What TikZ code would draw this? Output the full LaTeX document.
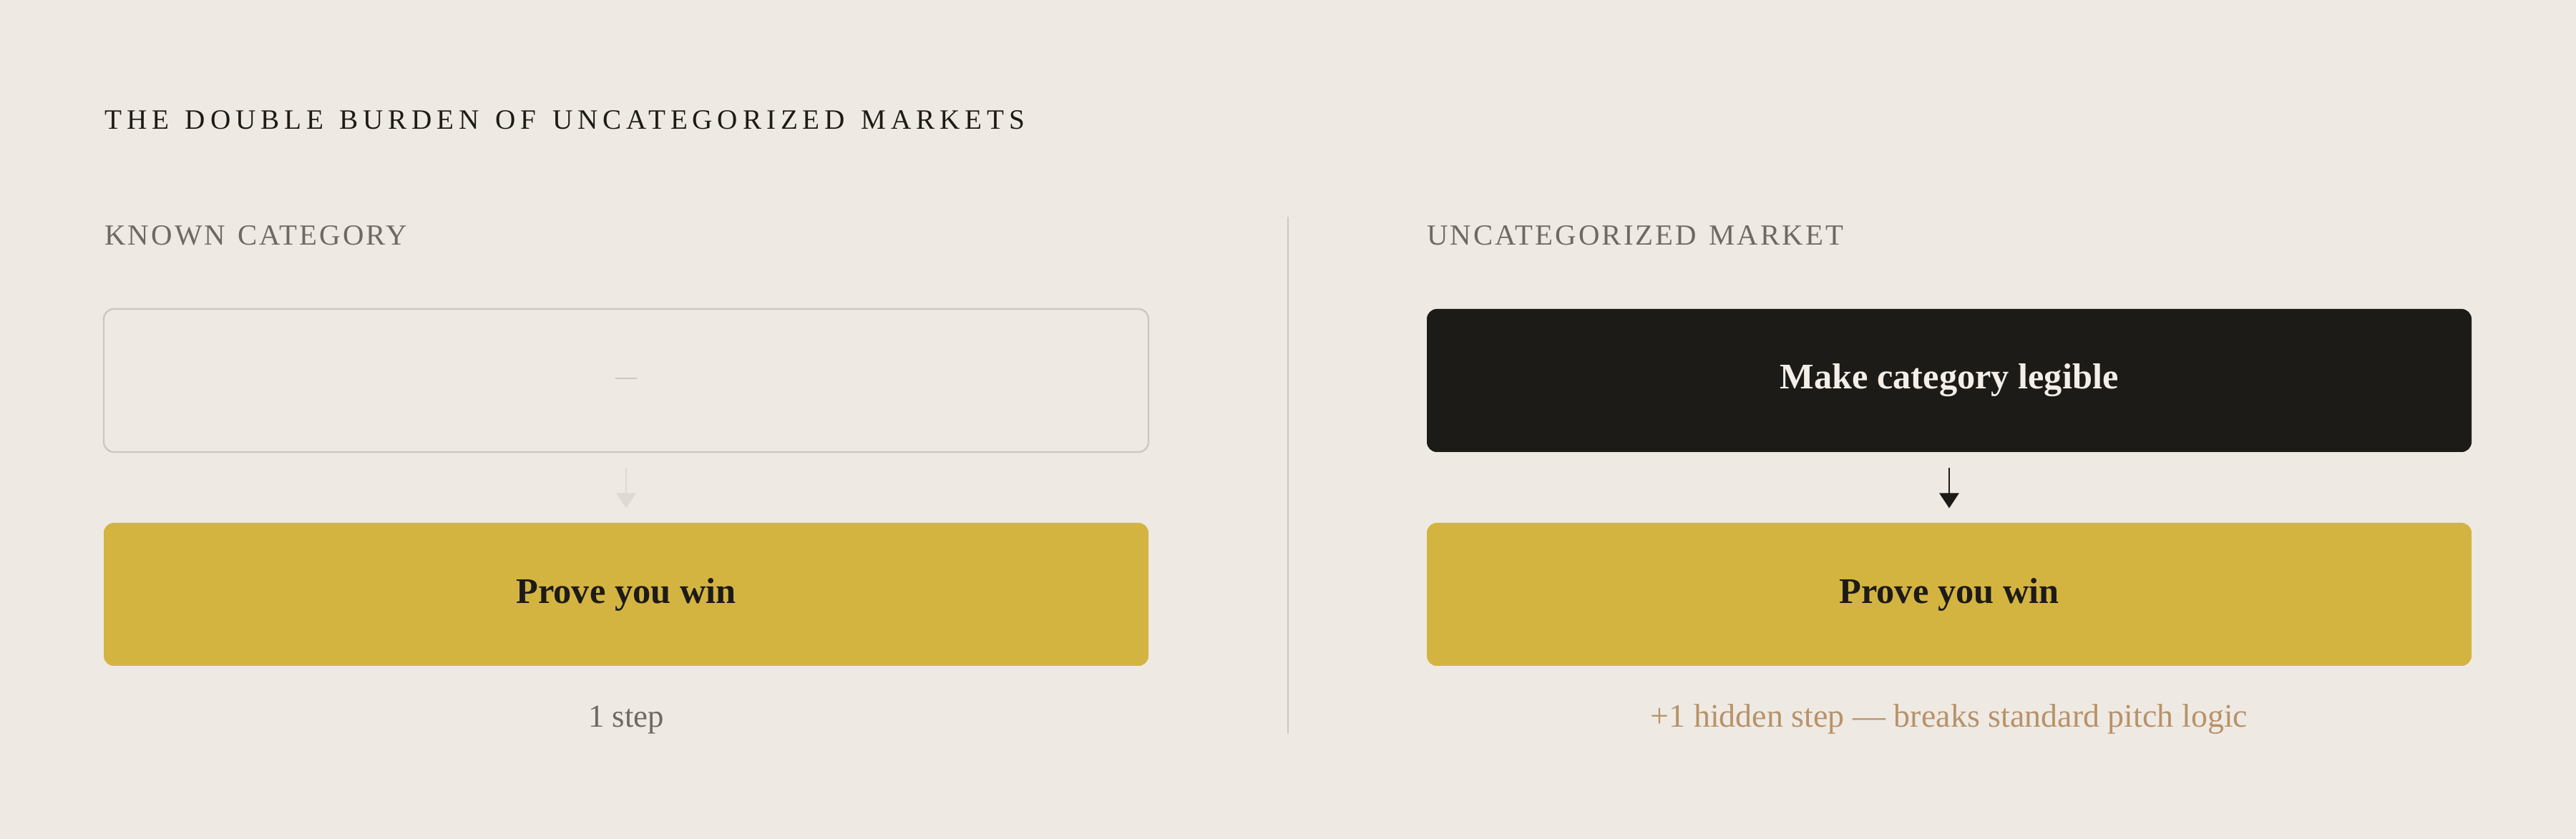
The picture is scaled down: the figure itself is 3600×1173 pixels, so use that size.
\documentclass[tikz,border=0pt]{standalone}
\usepackage{fontspec}
\setmainfont{Liberation Serif}
\newfontfamily\titlefont[LetterSpace=17.5,WordSpace=1.35]{Liberation Serif}
\newfontfamily\labelfont[LetterSpace=7.5,WordSpace=1.3]{Liberation Serif}
\usetikzlibrary{arrows.meta}

\definecolor{paper}{HTML}{EEEAE3}
\definecolor{ink}{HTML}{1D1B17}
\definecolor{muted}{HTML}{6E6A62}
\definecolor{rule}{HTML}{CCC7BF}
\definecolor{faint}{HTML}{DEDAD2}
\definecolor{gold}{HTML}{D4B441}
\definecolor{tan}{HTML}{B8926A}
\definecolor{cream}{HTML}{F3EFE8}

\tikzset{every picture/.style={line width=0.75pt}}
\tikzset{
	stepbox/.style={rounded corners=3.5pt, minimum width=365pt, minimum height=50pt, inner sep=0pt, font=\fontsize{12.6}{15}\selectfont\bfseries},
	emptybox/.style={stepbox, draw=rule, line width=0.6pt, fill=paper},
	darkbox/.style={stepbox, fill=ink, text=cream},
	goldbox/.style={stepbox, fill=gold, text=ink},
	collabel/.style={anchor=base west, inner sep=0pt, text=muted, font=\labelfont\fontsize{10.2}{12}\selectfont},
	note/.style={anchor=base, inner sep=0pt, font=\fontsize{11.2}{13}\selectfont},
	flow/.style={-{Triangle[length=5.25pt,width=6.75pt]}, line width=0.7pt, shorten <=5.25pt, shorten >=4.75pt}
}

\begin{document}
\begin{tikzpicture}[x=0.25pt,y=0.25pt,yscale=-1,xscale=1]
	%set diagram to 3600 x 1173
	\useasboundingbox (0,0) rectangle (3600,1173);
	\fill [paper] (0,0) rectangle (3600,1173);
	
	% Title
	\node (title) [anchor=base west, inner sep=0pt, text=ink, font=\titlefont\fontsize{9.8}{12}\selectfont] at (145,181) {THE DOUBLE BURDEN OF UNCATEGORIZED MARKETS};
	
	% Column labels
	\node (known) [collabel] at (145,343) {KNOWN CATEGORY};
	\node (uncat) [collabel] at (1993,343) {UNCATEGORIZED MARKET};
	
	%Straight Lines: divider
	\draw [rule, line width=0.5pt] (1800,303) -- (1800,1026);
	
	%Shape: left column
	\node (knownstep) [emptybox] at (875,532) {};
	\node (knowndash) [inner sep=0pt, text=rule, font=\fontsize{7.5}{10}\selectfont\bfseries] at (875,532) {—};
	\node (knownwin) [goldbox] at (875,831) {Prove you win};
	\draw [flow, faint] (knownstep.south) -- (knownwin.north);
	
	%Shape: right column
	\node (legible) [darkbox] at (2724,532) {Make category legible};
	\node (uncatwin) [goldbox] at (2724,831) {Prove you win};
	\draw [flow, ink] (legible.south) -- (uncatwin.north);
	
	% Text Node
	\node (onestep) [note, text=muted] at (875,1017) {1 step};
	% Text Node
	\node (hidden) [note, text=tan, font=\fontsize{11.5}{13}\selectfont] at (2724,1017) {+1 hidden step — breaks standard pitch logic};
	
\end{tikzpicture}
\end{document}
